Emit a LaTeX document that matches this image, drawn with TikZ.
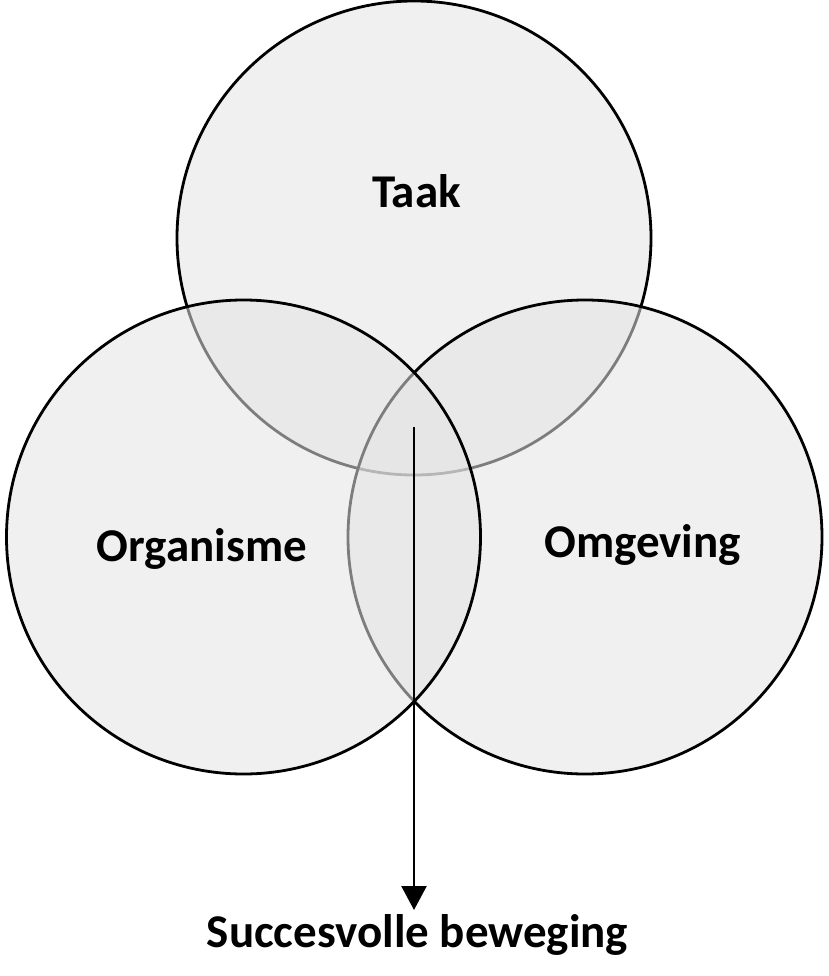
\documentclass[tikz,border=0pt]{standalone}
\usepackage{fontspec}
\setmainfont{Carlito}
\usetikzlibrary{arrows.meta}
\begin{document}
\begin{tikzpicture}[x=1pt,y=-1pt,
  venn/.style={circle,draw=black,line width=2.8pt,fill=black!10,fill opacity=0.55,
    text opacity=1,minimum size=474pt,inner sep=0pt,outer sep=0pt},
  lbl/.style={font=\bfseries\fontsize{47}{52}\selectfont,inner sep=0pt,anchor=base},
  arr/.style={line width=2.5pt,-{Triangle[width=25pt,length=24pt]}}]
\useasboundingbox (0,0) rectangle (828,976);
\fill[white] (0,0) rectangle (828,976);
\node[venn] (taakc) at (414,238) {};
\node[venn] (omgc) at (585,537) {};
\node[venn] (orgc) at (243.5,537) {};
\node[lbl] (taak) at (416.5,208) {Taak};
\node[lbl] (org) at (202,561) {Organisme};
\node[lbl] (omg) at (642.5,557) {Omgeving};
\node[lbl] (succ) at (417.5,947) {Succesvolle beweging};
\coordinate (start) at (414,427);
\coordinate (tip) at (414,910);
\draw[arr] (start) -- (tip);
\end{tikzpicture}
\end{document}
